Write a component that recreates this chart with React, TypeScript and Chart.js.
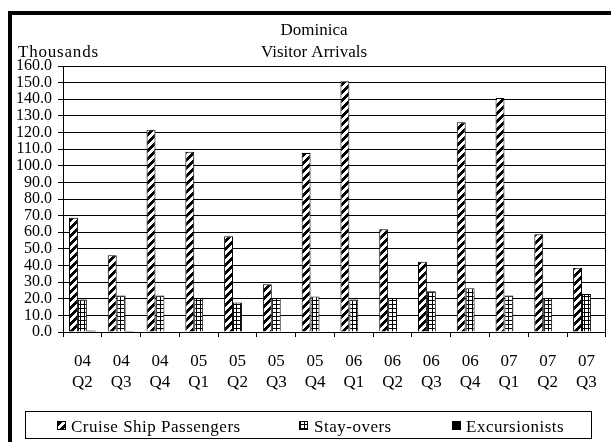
import React, { useEffect, useRef } from 'react';
import { Chart, registerables } from 'chart.js';

Chart.register(...registerables);

const FONT = "'Times New Roman', 'Liberation Serif', serif";

// Quarterly visitor arrivals to Dominica, in thousands
const years = ['04', '04', '04', '05', '05', '05', '05', '06', '06', '06', '06', '07', '07', '07'];
const quarters = ['Q2', 'Q3', 'Q4', 'Q1', 'Q2', 'Q3', 'Q4', 'Q1', 'Q2', 'Q3', 'Q4', 'Q1', 'Q2', 'Q3'];

const cruiseShipPassengers = [68.7, 46.1, 121.7, 108.4, 57.6, 28.7, 107.6, 150.8, 61.8, 42.2, 126.1, 140.8, 58.8, 38.7];
const stayOvers = [19.5, 22.0, 22.0, 20.5, 17.8, 20.5, 21.3, 19.5, 20.5, 24.5, 26.3, 22.0, 20.5, 22.9];
const excursionists = [0.9, 0.6, 0, 0, 0, 0, 0, 0, 0, 0, 0, 0, 0, 0];

const seriesNames = ['Cruise Ship Passengers', 'Stay-overs', 'Excursionists'];

const yMin = 0;
const yMax = 160;
const yStep = 10;

function makePattern(size: number, isInk: (x: number, y: number) => boolean): CanvasPattern | string {
  const c = document.createElement('canvas');
  c.width = size;
  c.height = size;
  const g = c.getContext('2d');
  if (!g) return '#000';
  g.fillStyle = '#fff';
  g.fillRect(0, 0, size, size);
  g.fillStyle = '#000';
  for (let y = 0; y < size; y++) {
    for (let x = 0; x < size; x++) {
      if (isInk(x, y)) g.fillRect(x, y, 1, 1);
    }
  }
  return g.createPattern(c, 'repeat') || '#000';
}

export default function App() {
  const canvasRef = useRef<HTMLCanvasElement | null>(null);

  useEffect(() => {
    const canvas = canvasRef.current;
    if (!canvas) return;

    const stripes = makePattern(8, (x, y) => (x + y) % 8 < 4);
    const grid = makePattern(4, (x, y) => x === 0 || y === 0);
    const fills: (CanvasPattern | string)[] = [stripes, grid, '#000'];

    const decorations = {
      id: 'decorations',
      beforeDraw(chart: Chart) {
        const ctx = chart.ctx;
        ctx.save();
        ctx.fillStyle = '#fff';
        ctx.fillRect(0, 0, chart.width, chart.height);
        ctx.restore();
      },
      afterDraw(chart: Chart) {
        const ctx = chart.ctx as any;
        const area = chart.chartArea;
        ctx.save();

        // plot frame on the right side
        ctx.strokeStyle = '#000';
        ctx.lineWidth = 1;
        ctx.beginPath();
        const rx = Math.round(area.right) - 0.5;
        ctx.moveTo(rx, Math.round(area.top) + 0.5);
        ctx.lineTo(rx, Math.round(area.bottom) + 0.5);
        ctx.stroke();

        // titles
        ctx.fillStyle = '#000';
        ctx.font = `17px ${FONT}`;
        ctx.textBaseline = 'alphabetic';
        ctx.textAlign = 'center';
        ctx.fillText('Dominica', 314, 35);
        ctx.fillText('Visitor Arrivals', 314, 56.5);
        ctx.textAlign = 'left';
        ctx.letterSpacing = '0.8px';
        ctx.fillText('Thousands', 18, 57);

        // legend box
        ctx.letterSpacing = '0.5px';
        ctx.strokeRect(25.5, 411.5, 566, 27);
        const items = [
          { icon: 57, text: 71 },
          { icon: 299, text: 314 },
          { icon: 452, text: 466 },
        ];
        items.forEach((it, i) => {
          ctx.fillStyle = fills[i];
          ctx.fillRect(it.icon, 421, 9, 9);
          ctx.strokeStyle = '#000';
          ctx.lineWidth = 1;
          ctx.strokeRect(it.icon + 0.5, 421.5, 8, 8);
          ctx.fillStyle = '#000';
          ctx.fillText(seriesNames[i], it.text, 431.5);
        });
        ctx.letterSpacing = '0px';

        // outer frame
        ctx.fillStyle = '#000';
        ctx.fillRect(8, 11, 603, 4);
        ctx.fillRect(8, 11, 4, 431);
        ctx.restore();
      },
    };

    const chart = new Chart(canvas, {
      type: 'bar',
      data: {
        labels: years.map((y, i) => [y, quarters[i]]),
        datasets: [cruiseShipPassengers, stayOvers, excursionists].map((values, i) => ({
          label: seriesNames[i],
          data: values,
          backgroundColor: fills[i] as any,
          borderColor: '#000',
          borderWidth: 1,
          borderSkipped: 'start' as const,
          categoryPercentage: 0.69,
          barPercentage: 1,
        })),
      },
      options: {
        responsive: false,
        animation: false,
        devicePixelRatio: 1,
        layout: { padding: { left: 0, top: 66, right: 4, bottom: 50 } },
        plugins: {
          legend: { display: false },
          title: { display: false },
          tooltip: { enabled: false },
        },
        scales: {
          x: {
            grid: {
              display: true,
              drawOnChartArea: false,
              drawTicks: true,
              tickLength: 5,
              color: '#000',
              offset: true,
            },
            border: { display: true, color: '#000', width: 1 },
            ticks: {
              color: '#000',
              font: { family: FONT, size: 17, lineHeight: 1.22 },
              padding: 14,
              autoSkip: false,
              maxRotation: 0,
              minRotation: 0,
            },
            afterFit(scale: any) {
              scale.height = 60;
            },
          },
          y: {
            min: yMin,
            max: yMax,
            grid: {
              color: '#000',
              lineWidth: 1,
              tickLength: 5,
              drawTicks: true,
            },
            border: { display: true, color: '#000', width: 1 },
            ticks: {
              stepSize: yStep,
              autoSkip: false,
              color: '#000',
              font: { family: FONT, size: 16 },
              padding: 6,
              callback: (v: any) => Number(v).toFixed(1),
            },
            afterFit(scale: any) {
              scale.width = 63;
            },
          },
        },
      },
      plugins: [decorations],
    });

    return () => chart.destroy();
  }, []);

  return (
    <div style={{ position: 'absolute', left: 0, top: 0, width: 611, height: 442, background: '#fff' }}>
      <canvas ref={canvasRef} width={611} height={442} style={{ display: 'block', width: 611, height: 442 }} />
    </div>
  );
}
